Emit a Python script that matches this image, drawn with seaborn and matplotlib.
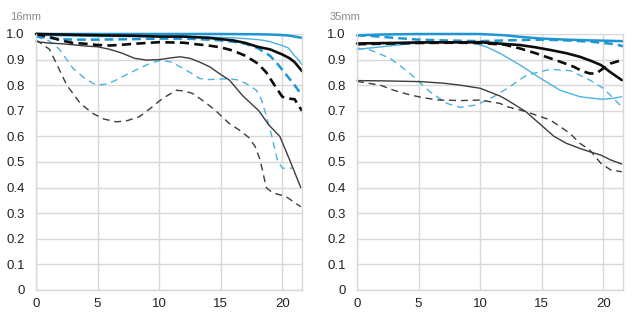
import matplotlib
matplotlib.use("Agg")
import matplotlib.pyplot as plt
import seaborn as sns
import pandas as pd

# ---------------- data: 16mm ----------------
l_bt_s_x = [0, 5, 10, 15, 18, 19, 20, 20.5, 21, 21.6]
l_bt_s_y = [1.0, 1.0, 1.0, 1.0, 0.999, 0.998, 0.996, 0.994, 0.99, 0.985]

l_bn_s_x = [0, 5, 10, 14, 16, 17, 18, 18.5, 19, 19.5, 20, 20.5, 21, 21.3, 21.6]
l_bn_s_y = [0.995, 0.99, 0.99, 0.988, 0.985, 0.982, 0.978, 0.975, 0.97, 0.962, 0.955, 0.945, 0.915, 0.90, 0.88]

l_bt_d_x = [0, 1, 2, 3, 5, 8, 10, 12, 14, 15, 16, 17, 18, 19, 19.5, 20, 20.5, 21, 21.6]
l_bt_d_y = [0.99, 0.985, 0.98, 0.978, 0.978, 0.98, 0.982, 0.982, 0.978, 0.975, 0.97, 0.962, 0.945, 0.915, 0.89, 0.86, 0.83, 0.80, 0.76]

l_bn_d_x = [0, 1, 1.9, 3, 4, 4.9, 5.8, 6.5, 7.5, 8.4, 9.3, 10.2, 11, 11.7, 12.5, 13.3, 14.1, 14.9, 15.7,
            16.5, 17.3, 17.9, 18.3, 18.7, 19.1, 19.6, 20, 20.8]
l_bn_d_y = [0.99, 0.975, 0.94, 0.866, 0.825, 0.80, 0.805, 0.82, 0.845, 0.866, 0.886, 0.898, 0.89, 0.872, 0.85,
            0.826, 0.822, 0.824, 0.825, 0.82, 0.80, 0.78, 0.745, 0.68, 0.61, 0.508, 0.476, 0.476]

l_kt_s_x = [0, 2, 5, 8, 10, 12, 14, 15, 16, 17, 18, 19, 19.5, 20, 20.6, 21, 21.6]
l_kt_s_y = [1.0, 0.998, 0.995, 0.993, 0.99, 0.99, 0.985, 0.98, 0.975, 0.965, 0.95, 0.94, 0.93, 0.92, 0.905, 0.89, 0.855]

l_kt_d_x = [0, 1, 2, 3, 4, 5, 6, 7, 8, 10, 12, 13, 14, 15, 16, 17, 18, 18.7, 19.5, 20, 20.5, 21, 21.6]
l_kt_d_y = [1.0, 0.99, 0.975, 0.965, 0.962, 0.957, 0.955, 0.958, 0.962, 0.968, 0.966, 0.96, 0.955, 0.948, 0.935,
            0.915, 0.885, 0.85, 0.79, 0.755, 0.748, 0.745, 0.70]

l_kn_s_x = [0, 1, 2, 3, 4, 5, 6, 7, 8, 9, 10, 11, 11.7, 12.5, 13.3, 14.1, 14.9, 15.7, 16.8, 18.1, 18.9,
            19.8, 20.6, 21.5]
l_kn_s_y = [0.97, 0.965, 0.962, 0.958, 0.953, 0.95, 0.94, 0.925, 0.905, 0.898, 0.90, 0.907, 0.911, 0.905, 0.89,
            0.872, 0.845, 0.82, 0.758, 0.70, 0.645, 0.60, 0.508, 0.40]

l_kn_d_x = [0, 1.1, 2, 2.5, 3.6, 4.6, 5.5, 6.5, 7.3, 8.4, 9.3, 10.3, 11.4, 12, 12.7, 13.7, 14.6, 15.7, 16.5,
            17.3, 17.8, 18.2, 18.7, 19.2, 20.3, 21.5]
l_kn_d_y = [0.977, 0.94, 0.85, 0.80, 0.729, 0.69, 0.668, 0.657, 0.66, 0.677, 0.71, 0.749, 0.78, 0.778, 0.768,
            0.735, 0.70, 0.65, 0.625, 0.595, 0.56, 0.508, 0.40, 0.38, 0.365, 0.325]

# ---------------- data: 35mm ----------------
r_bt_s_x = [0, 2, 5, 8, 10, 12, 13, 15, 17, 19, 20, 21.6]
r_bt_s_y = [0.995, 0.998, 1.0, 1.0, 1.0, 0.995, 0.99, 0.982, 0.978, 0.975, 0.974, 0.972]

r_bt_d_x = [0, 1, 3, 5, 7, 10, 12, 15, 17, 19, 20, 21, 21.6]
r_bt_d_y = [0.995, 0.993, 0.985, 0.978, 0.975, 0.972, 0.975, 0.978, 0.975, 0.97, 0.965, 0.96, 0.952]

r_bn_s_x = [0, 2, 5.1, 7, 9.4, 10.5, 11.6, 13.2, 14.9, 16.5, 18.1, 19.8, 20.7, 21.5]
r_bn_s_y = [0.94, 0.95, 0.966, 0.968, 0.965, 0.95, 0.925, 0.88, 0.827, 0.78, 0.755, 0.745, 0.748, 0.755]

r_bn_d_x = [0, 1.06, 2.7, 4.3, 5.9, 7.3, 8.4, 9.7, 11.1, 12.4, 13.8, 15.7, 17.3, 18.9, 20, 21.5]
r_bn_d_y = [0.945, 0.9375, 0.905, 0.846, 0.775, 0.729, 0.713, 0.723, 0.755, 0.794, 0.84, 0.862, 0.857, 0.82,
            0.788, 0.716]

r_kt_s_x = [0, 3, 5, 10, 13.2, 14.5, 15.7, 17, 18.1, 19, 19.8, 20.6, 21.5]
r_kt_s_y = [0.963, 0.965, 0.967, 0.968, 0.957, 0.948, 0.9375, 0.925, 0.911, 0.895, 0.879, 0.85, 0.82]

r_kt_d_x = [0, 3, 5, 8, 10, 12, 13.2, 14.5, 15.7, 16.6, 17.6, 18.3, 18.9, 19.4, 19.8, 20.2, 20.6, 21.5]
r_kt_d_y = [0.96, 0.963, 0.965, 0.966, 0.965, 0.958, 0.944, 0.925, 0.905, 0.89, 0.872, 0.855, 0.846, 0.845,
            0.859, 0.872, 0.885, 0.898]

r_kn_s_x = [0, 2, 5.1, 7, 8.4, 10, 11.6, 12.2, 13.7, 15.1, 16, 17, 18.1, 18.9, 19.8, 20.6, 21.5]
r_kn_s_y = [0.818, 0.817, 0.814, 0.808, 0.80, 0.788, 0.758, 0.742, 0.697, 0.638, 0.60, 0.573, 0.553, 0.54,
            0.527, 0.508, 0.492]

r_kn_d_x = [0, 1.9, 3, 4.3, 5.5, 6.7, 8.5, 10, 11.6, 12.2, 13.7, 15.7, 17.3, 18.1, 18.9, 19.8, 20.6, 21.5]
r_kn_d_y = [0.815, 0.80, 0.78, 0.762, 0.75, 0.742, 0.74, 0.742, 0.729, 0.716, 0.697, 0.664, 0.612, 0.573,
            0.547, 0.495, 0.469, 0.462]

titles = ["16mm", "35mm"]
xticks = [0, 5, 10, 15, 20]
yticks = [0, 0.1, 0.2, 0.3, 0.4, 0.5, 0.6, 0.7, 0.8, 0.9, 1.0]
ytick_labels = ["0", "0.1", "0.2", "0.3", "0.4", "0.5", "0.6", "0.7", "0.8", "0.9", "1.0"]

BLUE_T = "#1f95d3"
BLUE_N = "#4cb2e2"
BLACK_T = "#0d0d0d"
BLACK_N = "#3c3c3c"

styles = {
    "bn_s": (BLUE_N, 1.0, "-"),
    "bn_d": (BLUE_N, 1.0, (0, (5, 3.5))),
    "kn_s": (BLACK_N, 1.0, "-"),
    "kn_d": (BLACK_N, 1.0, (0, (5, 3.5))),
    "bt_d": (BLUE_T, 1.8, (0, (3.5, 2))),
    "bt_s": (BLUE_T, 1.8, "-"),
    "kt_d": (BLACK_T, 1.9, (0, (3.5, 2))),
    "kt_s": (BLACK_T, 1.9, "-"),
}

panels = [
    {"bt_s": (l_bt_s_x, l_bt_s_y), "bn_s": (l_bn_s_x, l_bn_s_y), "bt_d": (l_bt_d_x, l_bt_d_y),
     "bn_d": (l_bn_d_x, l_bn_d_y), "kt_s": (l_kt_s_x, l_kt_s_y), "kt_d": (l_kt_d_x, l_kt_d_y),
     "kn_s": (l_kn_s_x, l_kn_s_y), "kn_d": (l_kn_d_x, l_kn_d_y)},
    {"bt_s": (r_bt_s_x, r_bt_s_y), "bn_s": (r_bn_s_x, r_bn_s_y), "bt_d": (r_bt_d_x, r_bt_d_y),
     "bn_d": (r_bn_d_x, r_bn_d_y), "kt_s": (r_kt_s_x, r_kt_s_y), "kt_d": (r_kt_d_x, r_kt_d_y),
     "kn_s": (r_kn_s_x, r_kn_s_y), "kn_d": (r_kn_d_x, r_kn_d_y)},
]

sns.set_theme(style="white")
plt.rcParams["font.family"] = ["Liberation Sans", "DejaVu Sans"]

fig = plt.figure(figsize=(6.40, 3.21), dpi=100)
lefts = [36 / 640, 357 / 640]
width = 266 / 640
bottom = 31 / 321
height = 256 / 321

for i, data in enumerate(panels):
    ax = fig.add_axes([lefts[i], bottom, width, height])
    for key in ["bn_s", "bn_d", "kn_s", "kn_d", "bt_d", "bt_s", "kt_d", "kt_s"]:
        xs, ys = data[key]
        c, lw, ls = styles[key]
        df = pd.DataFrame({"x": xs, "y": ys})
        sns.lineplot(data=df, x="x", y="y", ax=ax, color=c, linewidth=lw, linestyle=ls,
                     clip_on=False, estimator=None, sort=False)
    ax.set_xlim(0, 21.6)
    ax.set_ylim(0, 1.0)
    ax.set_xticks(xticks)
    ax.set_yticks(yticks)
    ax.set_yticklabels(ytick_labels)
    ax.set_xlabel("")
    ax.set_ylabel("")
    ax.grid(True, color="#d8d8d8", linewidth=1.0)
    ax.set_axisbelow(True)
    for s in ax.spines.values():
        s.set_visible(True)
        s.set_color("#d8d8d8")
        s.set_linewidth(1.0)
    ax.spines["top"].set_visible(False)
    ax.tick_params(axis="both", length=0, labelsize=9.5, colors="#222222")
    ax.tick_params(axis="y", pad=8)
    ax.tick_params(axis="x", pad=6)
    fig.text(lefts[i] - (26 / 640 if i == 0 else 27 / 640) * 1.0, 1 - 17 / 321, titles[i],
             fontsize=8, color="#8a8a8a", va="center", ha="left")

fig.savefig("out.png", dpi=100)
